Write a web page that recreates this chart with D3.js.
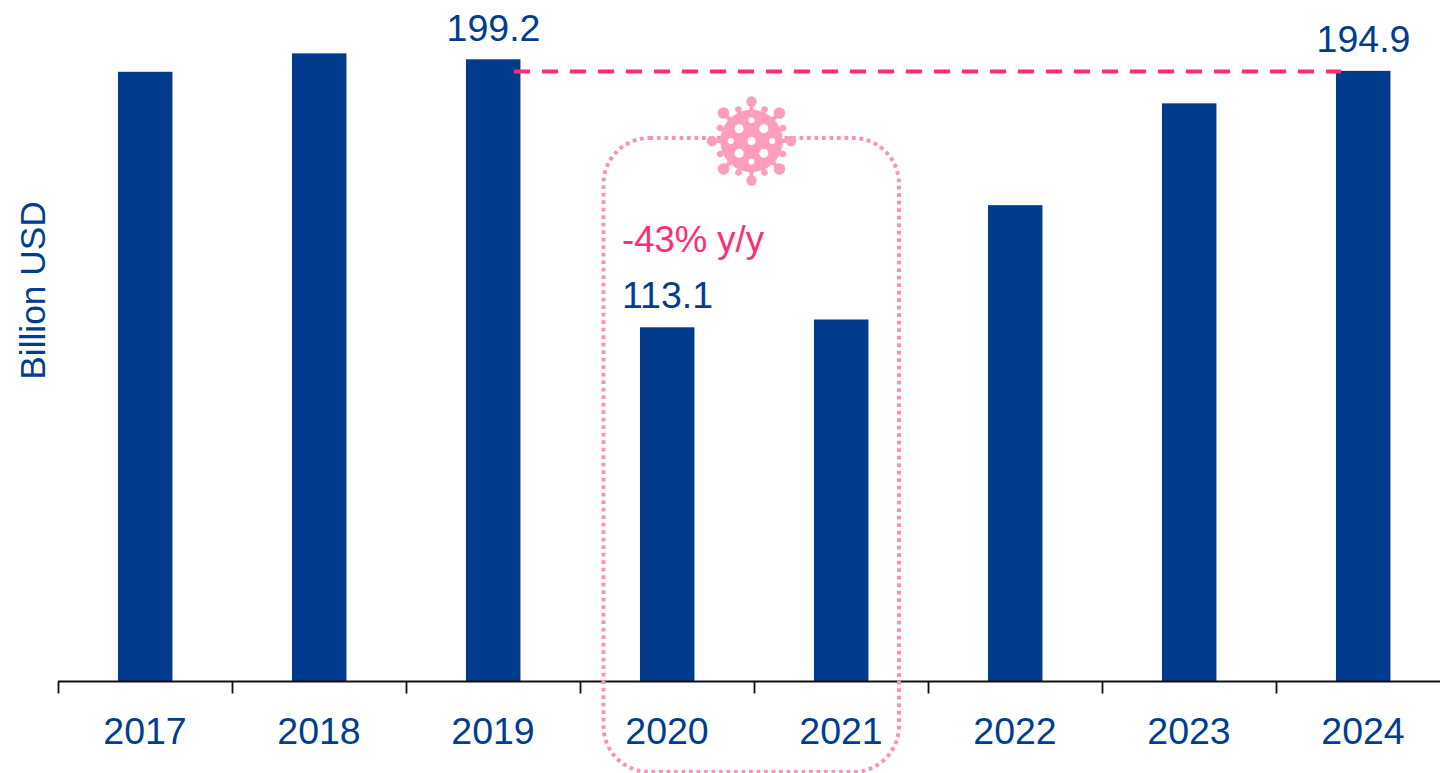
<!DOCTYPE html>
<html><head><meta charset="utf-8">
<script src="https://cdn.jsdelivr.net/npm/d3@7"></script>
<style>html,body{margin:0;padding:0;background:#fff;overflow:hidden}svg{display:block}text{font-family:"Liberation Sans",Arial,sans-serif}</style>
</head><body><svg id="c" width="1440" height="773"></svg>
<script>
const years = ["2017","2018","2019","2020","2021","2022","2023","2024"];
const values = [195.2, 201.1, 199.2, 113.4, 115.9, 152.5, 185.1, 195.5];
const valueLabels = ["", "", "199.2", "113.1", "", "", "", "194.9"];
const annotation = "-43% y/y";
const yTitle = "Billion USD";

const navy = "#003B8E", textNavy = "#003D8F", hot = "#FF2E74", soft = "#FF8FB6", virus = "#FF9DBE";
const svg = d3.select("#c");
const baseY = 681.5;
const x = d3.scaleBand().domain(years).range([58, 1450]).paddingInner(0).paddingOuter(0);
const y = d3.scaleLinear().domain([0, 199.2]).range([baseY, 59.3]);
const barW = 54.5;

svg.append("g").selectAll("rect").data(years).join("rect")
  .attr("x", d => x(d) + x.bandwidth()/2 - barW/2 + .2)
  .attr("width", barW)
  .attr("y", (d,i) => y(values[i]))
  .attr("height", (d,i) => baseY - y(values[i]))
  .attr("fill", navy);

const axis = d3.axisBottom(x).tickSize(0).tickPadding(0);
const ag = svg.append("g").attr("transform", `translate(0,${baseY})`).call(axis);
ag.select(".domain").attr("stroke", "#111").attr("stroke-width", 2).attr("d", "M58,0H1450");
ag.selectAll(".tick line").remove();
ag.selectAll(".tick text").attr("y", 62.5).attr("dy", 0)
  .attr("font-size", 37.5).attr("font-family", "Liberation Sans").attr("fill", textNavy).attr("text-anchor", "middle");
svg.append("g").selectAll("line").data(years).join("line")
  .attr("x1", d => x(d) + .5).attr("x2", d => x(d) + .5)
  .attr("y1", baseY).attr("y2", baseY + 12)
  .attr("stroke", "#111").attr("stroke-width", 1.8);

svg.append("rect").attr("x", 603.5).attr("y", 138).attr("width", 295.5).attr("height", 634)
  .attr("rx", 46).attr("fill", "none").attr("stroke", soft).attr("stroke-width", 4).attr("stroke-dasharray", "3.7 3.8");

svg.append("line").attr("x1", 514).attr("x2", 1341).attr("y1", 71.5).attr("y2", 71.5)
  .attr("stroke", hot).attr("stroke-width", 4.2).attr("stroke-dasharray", "16 12");

// virus glyph
const vg = svg.append("g").attr("transform", "translate(751.5,141)");
d3.range(16).forEach(i => {
  const a = i * 22.5, big = i % 2 === 0;
  const r = big ? 39.5 : 34, k = big ? (i % 4 === 2 ? 5.8 : 5.2) : 3.3;
  const s = vg.append("g").attr("transform", `rotate(${a})`);
  s.append("path").attr("d", big ? `M-2.6,-30L-1.3,${-r+3}H1.3L2.6,-30Z` : `M-1.6,-30L-1,${-r+1}H1L1.6,-30Z`).attr("fill", virus);
  s.append("circle").attr("cy", -r).attr("r", k).attr("fill", virus);
});
vg.append("circle").attr("r", 31.2).attr("fill", virus);
[[0,0,4],[-12.3,-12.3,4.5],[12.3,-12.3,4.5],[-12.3,12.3,4.5],[12.3,12.3,4.5],[0,-20.7,3],[0,20.7,3],[-20.7,0,3],[20.7,0,3]]
  .forEach(h => vg.append("circle").attr("cx", h[0]).attr("cy", h[1]).attr("r", h[2]).attr("fill", "#fff"));

const lblY = {2:41, 3:307.5, 7:51.5};
svg.append("g").selectAll("text").data(valueLabels.map((t,i)=>({t,i})).filter(d=>d.t)).join("text")
  .attr("x", d => x(years[d.i]) + x.bandwidth()/2 + .5)
  .attr("y", d => lblY[d.i]).attr("text-anchor", "middle")
  .attr("font-size", 37.5).attr("fill", textNavy).text(d => d.t);

svg.append("text").attr("x", 622).attr("y", 252).attr("font-size", 36.5).attr("fill", hot).text(annotation);
svg.append("text").attr("transform", "translate(45,290.5) rotate(-90)").attr("text-anchor", "middle")
  .attr("font-size", 35.3).attr("fill", textNavy).text(yTitle);
</script></body></html>
